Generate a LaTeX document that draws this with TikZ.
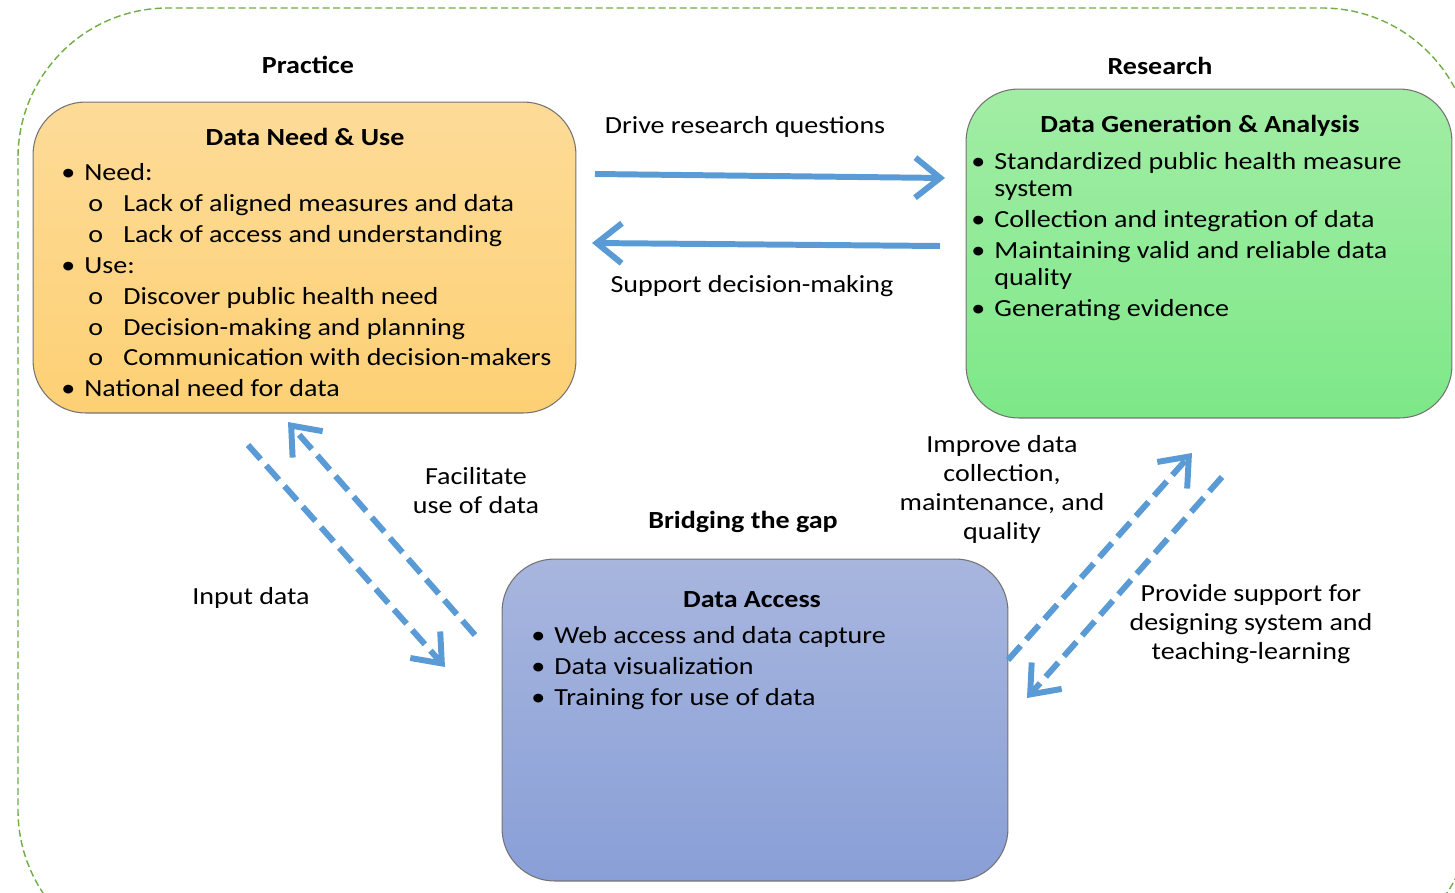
\documentclass[tikz,border=0pt]{standalone}
\usepackage{fontspec}
\setmainfont{Carlito}[FakeStretch=1.14]
\usetikzlibrary{arrows.meta}

\definecolor{flowblue}{RGB}{91,155,213}
\definecolor{framegreen}{RGB}{112,173,71}
\definecolor{edgegray}{RGB}{115,115,115}

\newcommand{\bul}{\makebox[0.46cm][l]{\textbullet}}
\newcommand{\subbul}{\hspace*{0.54cm}\makebox[0.70cm][l]{o}}
\newcommand{\cont}{\hspace*{0.46cm}}

\tikzset{
  box/.style={draw=edgegray, line width=0.6pt, rounded corners=1.05cm, inner sep=0pt},
  head/.style={font=\bfseries\fontsize{14}{17}\selectfont, inner sep=0pt},
  lbl/.style={font=\fontsize{14}{16.5}\selectfont, align=center, inner sep=0pt},
  items/.style={font=\fontsize{14}{17.6}\selectfont, align=left, anchor=north west, inner sep=0pt},
  flow/.style={draw=flowblue, line width=3.4pt, -{Straight Barb[length=0.5cm,width=0.8cm]}},
  dflow/.style={flow, dash pattern=on 0.38cm off 0.17cm},
}

\begin{document}
\begin{tikzpicture}[x=0.02cm,y=-0.02cm]
  \clip (0,0) rectangle (1455,893);

  % outer frame
  \draw[framegreen, line width=0.8pt, dash pattern=on 0.14cm off 0.07cm, rounded corners=3cm]
    (18,8) rectangle (1472,960);

  % boxes
  \node (need) at (304.5,257.5) [box, top color={rgb,255:red,253;green,219;blue,152},
    bottom color={rgb,255:red,253;green,208;blue,116}, minimum width=10.86cm, minimum height=6.22cm] {};
  \node (gen) at (1209,253.5) [box, top color={rgb,255:red,162;green,237;blue,165},
    bottom color={rgb,255:red,125;green,232;blue,136}, minimum width=9.72cm, minimum height=6.58cm] {};
  \node (acc) at (755,720) [box, top color={rgb,255:red,168;green,182;blue,222},
    bottom color={rgb,255:red,137;green,159;blue,215}, minimum width=10.12cm, minimum height=6.44cm] {};

  % headings
  \node (practice) at (308,65) [head] {Practice};
  \node (research) at (1160,66) [head] {Research};
  \node (bridge) at (743,522) [head] {Bridging the gap};
  \node (needtitle) at (305,137) [head] {Data Need \& Use};
  \node (gentitle) at (1200,126) [head] {Data Generation \& Analysis};
  \node (acctitle) at (752,600) [head] {Data Access};

  % lists
  \node (needlist) at (61,163) [items] {\bul Need:\\
    \subbul Lack of aligned measures and data\\
    \subbul Lack of access and understanding\\
    \bul Use:\\
    \subbul Discover public health need\\
    \subbul Decision-making and planning\\
    \subbul Communication with decision-makers\\
    \bul National need for data};
  \node (genlist) at (971,152) [items, font=\fontsize{14}{15.4}\selectfont] {\bul Standardized public health measure\\
    \cont system\\[2.3pt]
    \bul Collection and integration of data\\[2.3pt]
    \bul Maintaining valid and reliable data\\
    \cont quality\\[2.3pt]
    \bul Generating evidence};
  \node (acclist) at (531,626) [items] {\bul Web access and data capture\\
    \bul Data visualization\\
    \bul Training for use of data};

  % arrow ends
  \coordinate (driveS) at (595,174);
  \coordinate (driveE) at (945,178);
  \coordinate (suppS) at (940,246);
  \coordinate (suppE) at (592,243);
  \coordinate (inS) at (248,445);
  \coordinate (inE) at (445,667);
  \coordinate (facS) at (475,635);
  \coordinate (facE) at (288,422);
  \coordinate (impS) at (1008,660);
  \coordinate (impE) at (1192,453);
  \coordinate (provS) at (1222,477);
  \coordinate (provE) at (1027,698);

  \draw[flow] (driveS) -- (driveE);
  \draw[flow] (suppS) -- (suppE);
  \draw[dflow] (inS) -- (inE);
  \draw[dflow] (facS) -- (facE);
  \draw[dflow] (impS) -- (impE);
  \draw[dflow] (provS) -- (provE);

  % arrow labels
  \node (drive) at (745,127) [lbl] {Drive research questions};
  \node (supp) at (752,286) [lbl] {Support decision-making};
  \node (fac) at (476,491) [lbl] {Facilitate\\use of data};
  \node (input) at (251,598) [lbl] {Input data};
  \node (imp) at (1002,489) [lbl] {Improve data\\collection,\\maintenance, and\\quality};
  \node (prov) at (1251,624) [lbl] {Provide support for\\designing system and\\teaching-learning};
\end{tikzpicture}
\end{document}
